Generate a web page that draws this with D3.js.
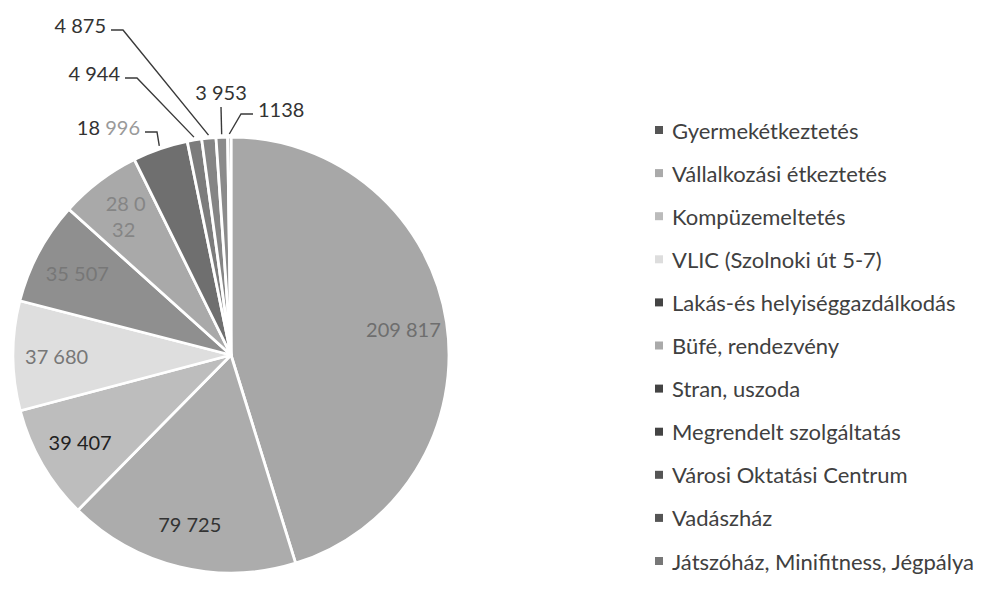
<!DOCTYPE html>
<html>
<head>
<meta charset="utf-8">
<script src="https://cdn.jsdelivr.net/npm/d3@7"></script>
<style>
  html, body { margin: 0; padding: 0; background: #fff; }
  svg { display: block; }
</style>
</head>
<body>
<svg id="chart" width="982" height="596"></svg>
<script>
// Categories, in pie order (clockwise from 12 o'clock)
var categories = [
  'Gyermekétkeztetés',
  'Vállalkozási étkeztetés',
  'Kompüzemeltetés',
  'VLIC (Szolnoki út 5-7)',
  'Lakás-és helyiséggazdálkodás',
  'Büfé, rendezvény',
  'Stran, uszoda',
  'Megrendelt szolgáltatás',
  'Városi Oktatási Centrum',
  'Vadászház',
  'Játszóház, Minifitness, Jégpálya'
];
var values = [209817, 79725, 39407, 37680, 35507, 28032, 18996, 4944, 4875, 3953, 1138];
var valueLabels = ['209 817', '79 725', '39 407', '37 680', '35 507', '28 032', '18 996', '4 944', '4 875', '3 953', '1138'];

// grey tones as they look in the scanned chart
var palette = ['#a7a7a7', '#acacac', '#bdbdbd', '#dedede', '#8f8f8f', '#a9a9a9',
               '#6f6f6f', '#7c7c7c', '#858585', '#8b8b8b', '#9a9a9a'];
var legendInk = ['#555', '#aaa', '#bbb', '#ddd', '#444', '#aaa', '#444', '#444', '#555', '#555', '#777'];
var insideInk = ['#6e6e6e', '#333', '#222', '#777', '#777', '#858585'];

// callouts for the thin slices: text anchor point and where the leader leaves the text
var callouts = {
  6:  { x: 140, y: 135, anchor: 'end',    side: 1 },
  7:  { x: 120, y: 81,  anchor: 'end',    side: 1 },
  8:  { x: 106, y: 33,  anchor: 'end',    side: 1 },
  9:  { x: 221, y: 100, anchor: 'middle', side: 0 },
  10: { x: 258, y: 117, anchor: 'start',  side: -1 }
};

var svg = d3.select('#chart');
var cx = 231, cy = 355, radius = 218;
var font = 'Lato, "Open Sans", sans-serif';

var color = d3.scaleOrdinal().domain(categories).range(palette);

var pie = d3.pie().sort(null).value(function (d) { return d.value; });
var data = categories.map(function (c, i) { return { name: c, value: values[i], label: valueLabels[i], idx: i }; });
var arcs = pie(data);

var arc = d3.arc().innerRadius(0).outerRadius(radius);
var labelArc = d3.arc().innerRadius(radius * 0.8).outerRadius(radius * 0.8);

var g = svg.append('g').attr('transform', 'translate(' + cx + ',' + cy + ')');

g.selectAll('path.slice')
  .data(arcs)
  .enter().append('path')
  .attr('class', 'slice')
  .attr('d', arc)
  .attr('fill', function (d) { return color(d.data.name); })
  .attr('stroke', '#fff')
  .attr('stroke-width', 2.8)
  .attr('stroke-linejoin', 'round');

// inside labels
arcs.forEach(function (d) {
  if (callouts[d.data.idx]) return;
  var c = labelArc.centroid(d);
  var t = g.append('text')
    .attr('x', c[0])
    .attr('y', c[1])
    .attr('text-anchor', 'middle')
    .attr('dominant-baseline', 'central')
    .style('font-family', font)
    .style('font-size', '20px')
    .style('fill', insideInk[d.data.idx]);
  if (d.data.idx === 5) {
    // Excel wrapped this one over two lines
    t.append('tspan').attr('x', c[0]).attr('dy', '-0.65em').text('28 0');
    t.append('tspan').attr('x', c[0] - 2).attr('dy', '1.3em').text('32');
  } else {
    t.text(d.data.label);
  }
});

// outside labels with leader lines
var lineGen = d3.line();
arcs.forEach(function (d) {
  var co = callouts[d.data.idx];
  if (!co) return;
  var mid = (d.startAngle + d.endAngle) / 2;
  var edge = [cx + Math.sin(mid) * (radius + 3), cy - Math.cos(mid) * (radius + 3)];
  var pts;
  if (co.side === 0) {
    pts = [[co.x, co.y + 7], edge];
  } else {
    var sx = co.x + co.side * 5;
    pts = [[sx, co.y - 3], [sx + co.side * 12, co.y - 3], edge];
  }
  svg.append('path')
    .attr('d', lineGen(pts))
    .attr('fill', 'none')
    .attr('stroke', '#3a3a3a')
    .attr('stroke-width', 1.4);

  var t = svg.append('text')
    .attr('x', co.x)
    .attr('y', co.y)
    .attr('text-anchor', co.anchor)
    .style('font-family', font)
    .style('font-size', '20px')
    .style('fill', '#333');
  if (d.data.idx === 6) {
    t.append('tspan').text('18 ');
    t.append('tspan').style('fill', '#9a9a9a').text('996');
  } else {
    t.text(d.data.label);
  }
});

// legend
var legend = svg.append('g').attr('transform', 'translate(655,130)');
var rows = legend.selectAll('g.row')
  .data(data)
  .enter().append('g')
  .attr('class', 'row')
  .attr('transform', function (d, i) { return 'translate(0,' + (i * 43.1) + ')'; });

rows.append('rect')
  .attr('x', 0).attr('y', -4)
  .attr('width', 8).attr('height', 8)
  .attr('fill', function (d) { return legendInk[d.idx]; });

rows.append('text')
  .attr('x', 17)
  .attr('y', 0)
  .attr('dominant-baseline', 'central')
  .style('font-family', font)
  .style('font-size', '22px')
  .style('fill', '#404040')
  .text(function (d) { return d.name; });
</script>
</body>
</html>
